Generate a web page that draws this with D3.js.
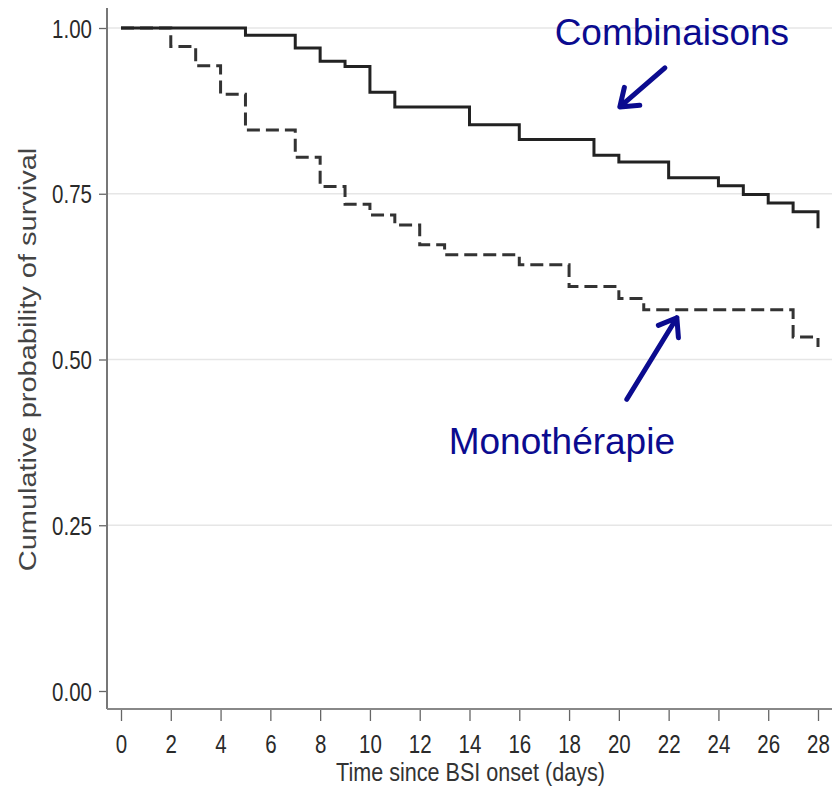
<!DOCTYPE html>
<html>
<head>
<meta charset="utf-8">
<script src="https://cdn.jsdelivr.net/npm/d3@7"></script>
<style>
    body { margin: 0; background: #fff; }
    svg { display: block; font-family: "Liberation Sans", Arial, sans-serif; }
</style>
</head>
<body>
<svg id="km" width="832" height="787"></svg>
<script>
// Kaplan-Meier steps
var combiDays = [0, 5, 7, 8, 9, 10, 11, 14, 16, 19, 20, 22, 24, 25, 26, 27, 28];
var combiSurv = [1.00, 0.989, 0.970, 0.950, 0.942, 0.903, 0.881, 0.854, 0.832, 0.808, 0.798, 0.774, 0.762, 0.749, 0.736, 0.723, 0.698];

var monoDays = [0, 2, 3, 4, 5, 7, 8, 9, 10, 11, 12, 13, 16, 18, 20, 21, 27, 28];
var monoSurv = [1.00, 0.972, 0.943, 0.900, 0.846, 0.805, 0.761, 0.734, 0.718, 0.703, 0.673, 0.658, 0.643, 0.610, 0.592, 0.575, 0.534, 0.519];

var xTicks = d3.range(0, 29, 2);
var yTicks = [0, 0.25, 0.5, 0.75, 1];

// annotations (data units)
var labels = [
    {text: "Combinaisons", x: 22.13, y: 0.974, from: [21.85, 0.940], to: [20.04, 0.881]},
    {text: "Monothérapie", x: 17.71, y: 0.357, from: [20.32, 0.440], to: [22.33, 0.563]}
];

var svg = d3.select("#km");

var width = 832, height = 787;
var axisX = 107, axisY = 709;

var x = d3.scaleLinear().domain([0, 28]).range([121, 818]);
var y = d3.scaleLinear().domain([0, 1]).range([691, 28]);

var squeeze = 0.82;   // the original figure is horizontally compressed

// gridlines
svg.append("g")
    .selectAll("line")
    .data(yTicks.filter(d => d > 0))
    .enter().append("line")
    .attr("x1", axisX).attr("x2", width)
    .attr("y1", d => y(d)).attr("y2", d => y(d))
    .attr("stroke", "#e6e6e6")
    .attr("stroke-width", 1.5);

// y axis
var yAxis = svg.append("g")
    .attr("transform", `translate(${axisX},0)`)
    .call(d3.axisLeft(y).tickValues(yTicks).tickSize(8).tickFormat(d3.format(".2f")));
yAxis.select(".domain").remove();
yAxis.selectAll(".tick line").attr("stroke", "#666").attr("stroke-width", 1.3);
yAxis.selectAll(".tick text")
    .attr("x", null)
    .attr("dy", null)
    .attr("y", 9)
    .attr("transform", `translate(-15,0) scale(${squeeze},1)`)
    .attr("font-size", 25)
    .attr("font-family", "Liberation Sans, Arial, sans-serif")
    .attr("fill", "#2a2a2a");

// x axis
var xAxis = svg.append("g")
    .attr("transform", `translate(0,${axisY})`)
    .call(d3.axisBottom(x).tickValues(xTicks).tickSize(12));
xAxis.select(".domain").remove();
xAxis.selectAll(".tick line").attr("stroke", "#666").attr("stroke-width", 1.3);
xAxis.selectAll(".tick text")
    .attr("dy", null)
    .attr("y", 44)
    .attr("transform", `scale(${squeeze},1)`)
    .attr("font-size", 25)
    .attr("font-family", "Liberation Sans, Arial, sans-serif")
    .attr("fill", "#2a2a2a");

// axis lines
svg.append("line")
    .attr("x1", axisX).attr("x2", axisX)
    .attr("y1", 8).attr("y2", axisY)
    .attr("stroke", "#777").attr("stroke-width", 2);
svg.append("line")
    .attr("x1", axisX).attr("x2", width)
    .attr("y1", axisY).attr("y2", axisY)
    .attr("stroke", "#888").attr("stroke-width", 2.2);

// axis titles
svg.append("text")
    .attr("transform", `translate(${(x(0) + x(28)) / 2 + 1},781) scale(0.83,1)`)
    .attr("text-anchor", "middle")
    .attr("font-size", 26)
    .attr("fill", "#333")
    .text("Time since BSI onset (days)");

svg.append("text")
    .attr("transform", `translate(36,${(y(0) + y(1)) / 2}) rotate(-90) scale(1,0.82)`)
    .attr("text-anchor", "middle")
    .attr("font-size", 29)
    .attr("fill", "#444")
    .text("Cumulative probability of survival");

// survival curves
var line = d3.line()
    .x(d => x(d[0]))
    .y(d => y(d[1]))
    .curve(d3.curveStepAfter);

var mono = monoDays.map((d, i) => [d, monoSurv[i]]);
var combi = combiDays.map((d, i) => [d, combiSurv[i]]);

svg.append("path")
    .datum(mono)
    .attr("d", line)
    .attr("fill", "none")
    .attr("stroke", "#333")
    .attr("stroke-width", 3)
    .attr("stroke-dasharray", "13,6");

svg.append("path")
    .datum(combi)
    .attr("d", line)
    .attr("fill", "none")
    .attr("stroke", "#222")
    .attr("stroke-width", 3);

// annotations
var navy = "#0b0b8f";

labels.forEach(function(l) {
    svg.append("text")
        .attr("x", x(l.x))
        .attr("y", y(l.y))
        .attr("text-anchor", "middle")
        .attr("font-size", 37)
        .attr("fill", navy)
        .text(l.text);

    var x0 = x(l.from[0]), y0 = y(l.from[1]),
        x1 = x(l.to[0]), y1 = y(l.to[1]);
    var ang = Math.atan2(y1 - y0, x1 - x0),
        len = 20, spread = Math.PI / 5;
    var b1 = [x1 - len * Math.cos(ang - spread), y1 - len * Math.sin(ang - spread)],
        b2 = [x1 - len * Math.cos(ang + spread), y1 - len * Math.sin(ang + spread)];

    svg.append("path")
        .attr("d", `M${x0},${y0}L${x1},${y1}M${b1[0]},${b1[1]}L${x1},${y1}L${b2[0]},${b2[1]}`)
        .attr("fill", "none")
        .attr("stroke", navy)
        .attr("stroke-width", 5)
        .attr("stroke-linecap", "round")
        .attr("stroke-linejoin", "round");
});
</script>
</body>
</html>
